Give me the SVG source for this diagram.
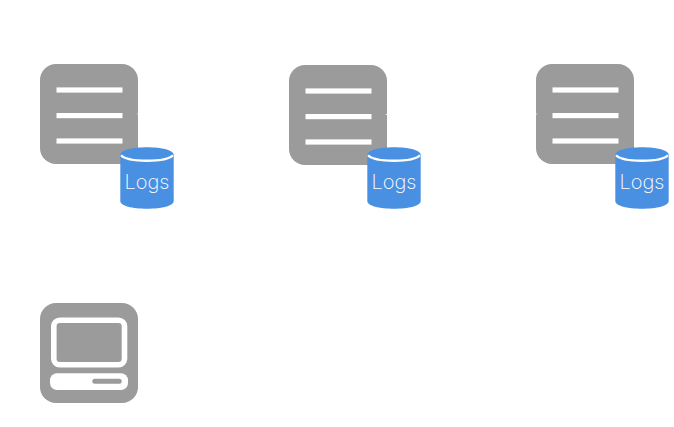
<svg xmlns="http://www.w3.org/2000/svg" width="674" height="427" viewBox="0 0 674 427">
<defs>
<style>
.box{fill:#9b9b9b}
.bar{fill:#fff}
.cyl{fill:#4a90e2}
.rim{fill:none;stroke:#fff;stroke-width:2.400}
.lbl{font-family:"Inter","Liberation Sans",sans-serif;font-weight:200;font-size:20px;fill:#fff;text-anchor:middle}
</style>
<g id="bars">
<rect class="box" x="0" y="0" width="98" height="100" rx="16"/>
<rect class="bar" x="16.500" y="23.400" width="66" height="5.200"/>
<rect class="bar" x="16.500" y="49" width="66" height="5.200"/>
<rect class="bar" x="16.500" y="74.400" width="66" height="5.200"/>
</g>
<g id="db">
<path class="cyl" d="M0 7.500C0 3 12 0 26.700 0S53.400 3 53.400 7.500V54C53.400 58.500 41.400 61.500 26.700 61.500S0 58.500 0 54Z"/>
<path class="rim" d="M0.800 8C4 11.500 14 13.500 26.700 13.500S49.400 11.500 52.600 8"/>
</g>
</defs>
<rect width="674" height="427" fill="#fff"/>
<g id="server-1">
<use href="#bars" x="40" y="64"/>
<path class="bar" d="M136.500 114L138.500 113.300V114.500Z"/>
<use href="#db" x="120.300" y="147.300"/>
<text class="lbl" x="147" y="188.700">Logs</text>
</g>
<g id="server-2">
<use href="#bars" x="289" y="65"/>
<path class="bar" d="M385 114.500L387.500 113.800V115.200Z"/>
<use href="#db" x="367.300" y="147.300"/>
<text class="lbl" x="394" y="188.700">Logs</text>
</g>
<g id="server-3">
<use href="#bars" x="536" y="64"/>
<path class="bar" d="M535.500 113.500L538 114L535.500 114.500Z"/>
<use href="#db" x="615.300" y="147.300"/>
<text class="lbl" x="642" y="188.700">Logs</text>
</g>
<g id="computer">
<rect class="box" x="40" y="303" width="98" height="100" rx="16"/>
<rect x="53.800" y="320.200" width="70.700" height="44.500" rx="6" fill="none" stroke="#fff" stroke-width="5.600"/>
<rect class="bar" x="50" y="373.300" width="78" height="16.700" rx="7"/>
<rect class="box" x="92.300" y="378.800" width="29.400" height="5" rx="2.500"/>
</g>
<g id="connectors"/>
</svg>
